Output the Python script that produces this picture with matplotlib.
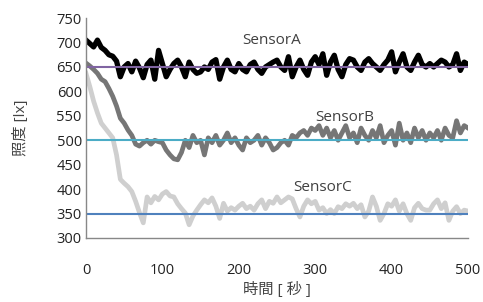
import numpy as np
import matplotlib
matplotlib.use("Agg")
import matplotlib.pyplot as plt

# ---- data (every 5 s) ----
time_s = np.arange(0, 501, 5)

sensor_a = [
    705, 698, 691, 705, 690, 684, 675, 672, 662, 630,
    650, 657, 640, 662, 648, 628, 655, 664, 625, 684,
    657, 630, 645, 657, 664, 650, 630, 660, 645, 637,
    640, 650, 645, 660, 665, 625, 650, 664, 645, 640,
    657, 645, 640, 655, 660, 645, 637, 650, 655, 660,
    664, 650, 643, 671, 630, 650, 664, 645, 633, 660,
    671, 655, 677, 633, 660, 674, 645, 630, 655, 667,
    664, 650, 643, 660, 667, 657, 650, 643, 655, 664,
    681, 640, 660, 677, 650, 643, 660, 674, 655, 650,
    657, 650, 657, 664, 660, 650, 655, 677, 643, 660,
    655,
]
sensor_b = [
    658, 652, 645, 637, 625, 620, 606, 590, 570, 545,
    535, 521, 510, 492, 488, 495, 500, 492, 500, 497,
    495, 480, 470, 462, 460, 475, 500, 485, 510, 495,
    500, 470, 505, 495, 510, 490, 500, 515, 495, 505,
    490, 480, 505, 495, 500, 510, 490, 505, 495, 480,
    485, 495, 500, 490, 510, 505, 515, 520, 510, 525,
    520, 530, 510, 525, 505, 520, 500, 515, 530, 505,
    515, 495, 525, 510, 500, 520, 505, 530, 495, 510,
    520, 490, 535, 500, 515, 495, 525, 505, 520, 500,
    515, 505, 520, 500, 525, 510, 505, 540, 515, 530,
    525,
]
sensor_c = [
    637, 610, 580, 556, 535, 525, 515, 505, 470, 420,
    412, 405, 395, 375, 352, 331, 384, 372, 385, 378,
    390, 395, 386, 384, 370, 360, 351, 327, 345, 357,
    368, 378, 372, 382, 365, 340, 371, 355, 362, 357,
    365, 371, 360, 365, 357, 370, 378, 360, 375, 371,
    384, 372, 378, 384, 380, 360, 343, 365, 378, 370,
    375, 357, 362, 350, 358, 350, 364, 360, 370, 365,
    371, 360, 368, 343, 355, 384, 365, 336, 350, 370,
    365, 378, 355, 370, 350, 336, 362, 371, 360, 357,
    357, 370, 378, 360, 372, 336, 355, 364, 350, 357,
    355,
]

# target levels drawn as flat lines
target_t = [0, 500]
target_a = [650, 650]
target_b = [500, 500]
target_c = [350, 350]

plt.rcParams["font.family"] = ["Open Sans", "Noto Sans CJK JP", "DejaVu Sans"]

fig = plt.figure(figsize=(4.83, 3.02), dpi=100)
ax = fig.add_axes([0.178, 0.212, 0.791, 0.728])

ax.plot(time_s, sensor_c, color="#cfcfcf", lw=3.4)
ax.plot(time_s, sensor_b, color="#767676", lw=3.4)
ax.plot(time_s, sensor_a, color="#000000", lw=3.8)

ax.plot(target_t, target_a, color="#8064a2", lw=1.5)
ax.plot(target_t, target_b, color="#4bacc6", lw=1.5)
ax.plot(target_t, target_c, color="#4f81bd", lw=1.5)

txt = dict(fontsize=11, color="#404040", ha="center", va="center")
ax.text(243, 705, "SensorA", **txt)
ax.text(339, 547, "SensorB", **txt)
ax.text(309, 404, "SensorC", **txt)

ax.set_xlim(0, 500)
ax.set_ylim(300, 750)
ax.set_xticks(range(0, 501, 100))
ax.set_yticks(range(300, 751, 50))
ax.tick_params(length=0, labelsize=10.5, labelcolor="#222222")
ax.tick_params(axis="x", pad=18)
ax.tick_params(axis="y", pad=3)

for side in ("top", "right"):
    ax.spines[side].set_visible(False)
for side in ("left", "bottom"):
    ax.spines[side].set_color("#888888")
    ax.spines[side].set_linewidth(1.0)

ax.set_xlabel("時間 [ 秒 ]", fontsize=11, color="#444444", labelpad=3)
ax.set_ylabel("照度 [lx]", fontsize=11, color="#444444", labelpad=20)

fig.savefig("out.png", dpi=100)
